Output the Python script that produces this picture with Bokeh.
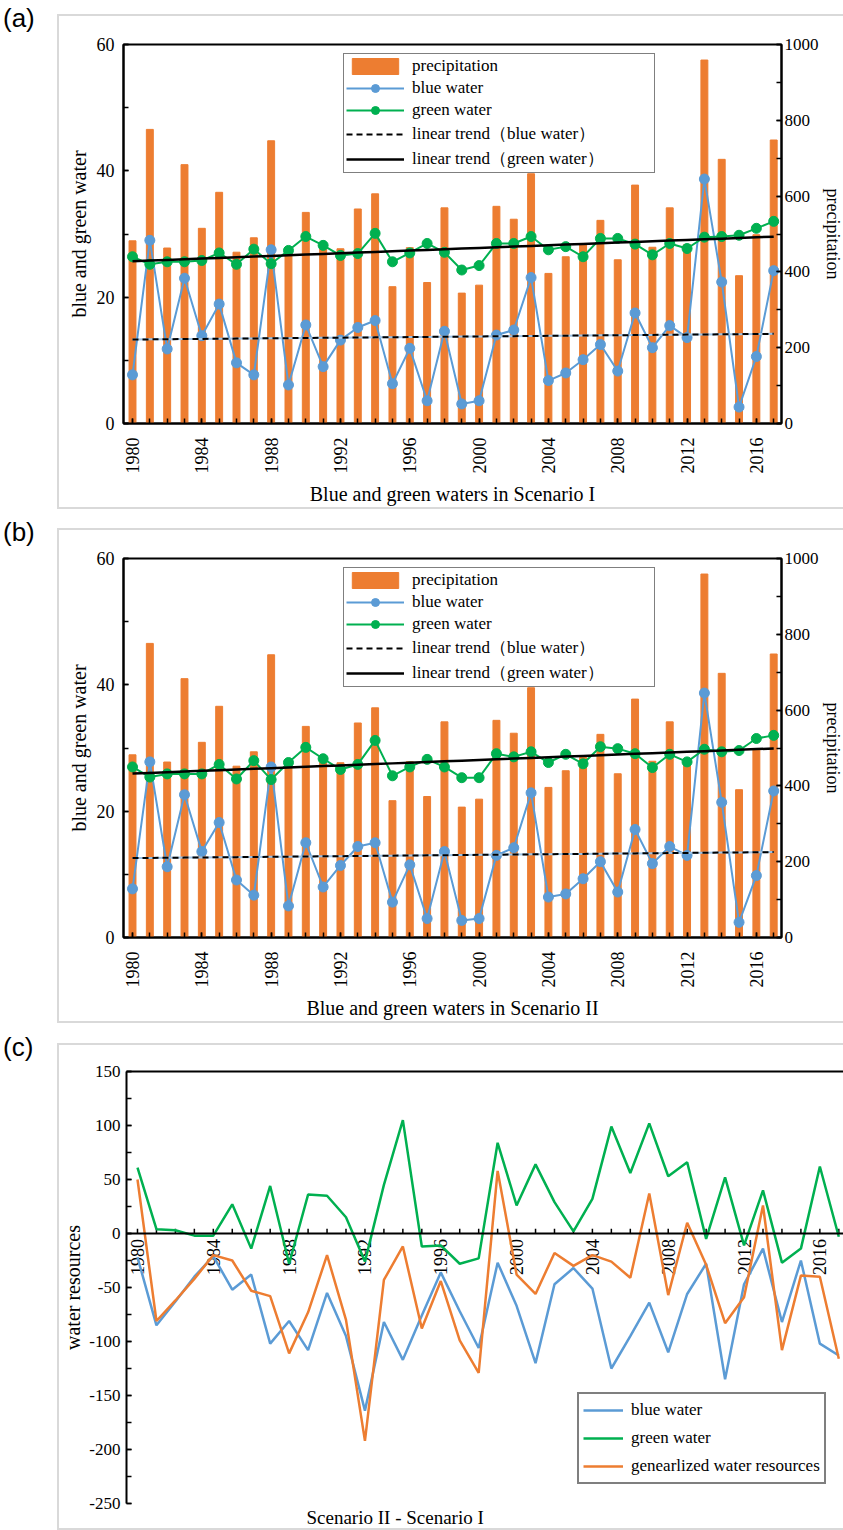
import numpy as np
from bokeh.plotting import figure
from bokeh.models import (Range1d, LinearAxis, FixedTicker, Legend, LegendItem,
                          Label, Div, Span, Spacer, PrintfTickFormatter, Title)
from bokeh.layouts import column, row
from bokeh.core.properties import value
from bokeh.embed import file_html
from bokeh.resources import INLINE

# ---------------- data ----------------
years = list(range(1980, 2018))
year_labels = list(range(1980, 2017, 4))

precipitation = [482, 776, 463, 683, 515, 610, 452, 490, 746, 460,
                 557, 462, 461, 566, 606, 361, 464, 372, 569, 344,
                 365, 573, 539, 659, 396, 440, 475, 536, 432, 629,
                 465, 569, 472, 959, 697, 390, 498, 748]

blue_s1 = [7.7, 29.0, 11.8, 23.0, 13.9, 18.9, 9.6, 7.7, 27.5, 6.1,
           15.6, 9.0, 13.2, 15.2, 16.3, 6.3, 11.9, 3.6, 14.6, 3.1,
           3.6, 14.0, 14.8, 23.1, 6.8, 8.0, 10.1, 12.5, 8.3, 17.5,
           12.0, 15.5, 13.6, 38.7, 22.4, 2.6, 10.6, 24.2]
green_s1 = [26.4, 25.2, 25.6, 25.6, 25.8, 27.0, 25.2, 27.6, 25.3, 27.4,
            29.6, 28.2, 26.6, 26.9, 30.1, 25.6, 27.0, 28.5, 27.1, 24.3,
            25.0, 28.5, 28.5, 29.6, 27.5, 28.0, 26.4, 29.3, 29.3, 28.4,
            26.7, 28.5, 27.7, 29.5, 29.6, 29.8, 30.9, 32.0]

blue_s2 = [7.7, 27.8, 11.2, 22.6, 13.6, 18.2, 9.1, 6.7, 27.0, 5.0,
           15.0, 8.0, 11.4, 14.4, 15.0, 5.6, 11.5, 3.0, 13.6, 2.7,
           3.0, 13.0, 14.2, 22.9, 6.4, 6.9, 9.3, 12.0, 7.2, 17.1,
           11.7, 14.4, 13.0, 38.7, 21.4, 2.4, 9.8, 23.2]
green_s2 = [27.0, 25.4, 25.9, 25.9, 25.9, 27.4, 25.1, 28.0, 25.0, 27.7,
            30.1, 28.3, 26.6, 27.4, 31.2, 25.6, 27.0, 28.2, 27.0, 25.3,
            25.3, 29.1, 28.6, 29.4, 27.7, 29.0, 27.5, 30.2, 29.9, 29.1,
            26.9, 29.0, 27.8, 29.8, 29.4, 29.6, 31.5, 32.0]

diff_blue = [-22, -85, -63, -40, -21, -52, -38, -102, -81, -108,
             -55, -95, -164, -82, -117, -76, -36, -72, -106, -27,
             -67, -120, -47, -32, -51, -125, -95, -64, -110, -56,
             -28, -135, -47, -14, -82, -25, -102, -113]
diff_green = [61, 4, 3, -2, -2, 27, -14, 44, -28, 36,
              35, 15, -26, 45, 105, -12, -11, -28, -23, 84,
              26, 64, 29, 2, 32, 99, 56, 102, 53, 66,
              -5, 52, -11, 40, -27, -14, 62, -3]
diff_general = [50, -81, -62, -42, -20, -25, -53, -58, -111, -73,
                -20, -80, -192, -43, -12, -88, -44, -99, -129, 58,
                -38, -56, -18, -30, -20, -26, -41, 37, -57, 10,
                -29, -83, -59, 26, -108, -39, -40, -116]

ORANGE = "#ED7D31"
BLUE = "#5B9BD5"
GREEN = "#00B050"
SERIF = "Liberation Serif"
BOX = {"border": "2px solid #d9d9d9", "border-right": "none"}


def style_axis(ax, size="18px", label_size="20px"):
    ax.axis_line_color = "black"
    ax.axis_line_width = 2
    ax.major_tick_line_width = 1.5
    ax.minor_tick_line_width = 1.5
    ax.major_tick_in = 5
    ax.major_tick_out = 0
    ax.minor_tick_in = 5
    ax.minor_tick_out = 0
    ax.major_label_text_font = SERIF
    ax.major_label_text_font_size = size
    ax.major_label_text_color = "black"
    ax.axis_label_text_font = SERIF
    ax.axis_label_text_font_size = label_size
    ax.axis_label_text_font_style = "normal"
    ax.axis_label_text_color = "black"


def water_panel(blue, green, xtitle):
    p = figure(width=786, height=495, x_range=Range1d(1979.48, 2017.45),
               y_range=Range1d(0, 60), output_backend="svg", toolbar_location=None,
               min_border_left=64, min_border_right=62, min_border_top=28,
               min_border_bottom=88, margin=0, styles=BOX)
    p.extra_y_ranges = {"precip": Range1d(0, 1000)}
    p.grid.visible = False
    p.outline_line_color = "black"
    p.outline_line_width = 2

    p.yaxis.ticker = FixedTicker(ticks=[0, 20, 40, 60], minor_ticks=list(range(0, 61, 10)))
    p.yaxis.axis_label = "blue and green water"
    style_axis(p.yaxis[0])
    p.yaxis.major_label_standoff = 9
    p.yaxis.axis_label_standoff = 4

    p.xaxis.ticker = FixedTicker(ticks=year_labels, minor_ticks=years)
    p.xaxis.major_label_orientation = np.pi / 2
    p.xaxis.axis_label = xtitle
    style_axis(p.xaxis[0])
    p.xaxis.major_label_standoff = 14
    p.xaxis.axis_label_standoff = 6

    right = LinearAxis(y_range_name="precip", axis_label="precipitation",
                       ticker=FixedTicker(ticks=list(range(0, 1001, 200)),
                                          minor_ticks=list(range(0, 1001, 100))))
    style_axis(right, size="17px", label_size="18px")
    right.major_label_standoff = 3
    right.axis_label_standoff = 1
    p.add_layout(right, "right")

    bars = p.vbar(x=years, top=precipitation, width=0.4, bottom=0,
                  fill_color=ORANGE, line_color=ORANGE, y_range_name="precip")

    yrs = np.array(years, dtype=float)
    tb = np.polyval(np.polyfit(yrs, blue, 1), yrs)
    tg = np.polyval(np.polyfit(yrs, green, 1), yrs)

    bl = p.line(years, blue, line_color=BLUE, line_width=2)
    bs = p.scatter(years, blue, size=10, fill_color=BLUE, line_color=BLUE)
    gl = p.line(years, green, line_color=GREEN, line_width=2)
    gs = p.scatter(years, green, size=10, fill_color=GREEN, line_color=GREEN)

    p.line(yrs, tb, line_color="#9DC3E6", line_width=2)
    tbl = p.line(yrs, tb, line_color="black", line_width=2, line_dash="6 4")
    tgl = p.line(yrs, tg, line_color="black", line_width=2.5)

    legend = Legend(items=[
        LegendItem(label="precipitation", renderers=[bars]),
        LegendItem(label="blue water", renderers=[bl, bs]),
        LegendItem(label="green water", renderers=[gl, gs]),
        LegendItem(label="linear trend（blue water）", renderers=[tbl]),
        LegendItem(label="linear trend（green water）", renderers=[tgl]),
    ], location=(220, 250))
    legend.label_text_font = SERIF
    legend.label_text_font_size = "17px"
    legend.label_text_color = "black"
    legend.border_line_color = "black"
    legend.border_line_width = 1.5
    legend.background_fill_alpha = 1
    legend.padding = 2
    legend.margin = 0
    legend.spacing = 2
    legend.glyph_width = 58
    legend.glyph_height = 20
    legend.label_height = 20
    legend.label_standoff = 8
    legend.label_width = 240
    p.add_layout(legend)

    p.add_layout(Label(x=1980.1, y=62.9, text="billion m³", text_font=SERIF,
                       text_font_size="16px", text_baseline="middle", text_align="left"))
    p.add_layout(Label(x=2017.5, y=62.9, text="mm", text_font=SERIF,
                       text_font_size="16px", text_baseline="middle", text_align="right"))
    return p


def letter(txt):
    return Div(text=txt, width=57, height=30, margin=0,
               styles={"font-family": "Liberation Sans", "font-size": "26px",
                       "line-height": "28px", "transform": "translate(3px, -10px)"})


pa = water_panel(blue_s1, green_s1, "Blue and green waters in Scenario I")
pb = water_panel(blue_s2, green_s2, "Blue and green waters in Scenario II")

# ---------------- panel (c) ----------------
pc = figure(width=786, height=487, x_range=Range1d(1979.42, 2017.30),
            y_range=Range1d(-250, 150), output_backend="svg", toolbar_location=None,
            min_border_left=67, min_border_right=1, min_border_top=26,
            min_border_bottom=29, margin=0, styles=BOX)
pc.grid.visible = False
pc.outline_line_color = None
pc.xaxis.visible = False
pc.yaxis.ticker = FixedTicker(ticks=list(range(-250, 151, 50)),
                              minor_ticks=list(range(-250, 151, 25)))
pc.yaxis.formatter = PrintfTickFormatter(format="%d")
pc.yaxis.axis_label = "water resources"
style_axis(pc.yaxis[0], size="17px", label_size="20px")
pc.yaxis.major_label_standoff = 6
pc.yaxis.axis_label_standoff = 2

top_line = LinearAxis(ticker=FixedTicker(ticks=[]), major_label_text_font_size="0px",
                      axis_line_width=2, axis_line_color="black",
                      major_tick_in=0, major_tick_out=0, minor_tick_in=0, minor_tick_out=0)
pc.add_layout(top_line, "above")

pc.add_layout(Span(location=0, dimension="width", line_color="black", line_width=2))
pc.segment(x0=years, y0=[0] * len(years), x1=years, y1=[4.5] * len(years),
           line_color="black", line_width=1.5)
pc.text(x=year_labels, y=[-5] * len(year_labels), text=[str(y) for y in year_labels],
        angle=np.pi / 2, text_align="right", text_baseline="middle",
        text_font=value(SERIF), text_font_size="18px", text_color="black")

cb = pc.line(years, diff_blue, line_color=BLUE, line_width=2.5)
cg = pc.line(years, diff_green, line_color=GREEN, line_width=2.5)
co = pc.line(years, diff_general, line_color=ORANGE, line_width=2.5)

leg_c = Legend(items=[
    LegendItem(label="blue water", renderers=[cb]),
    LegendItem(label="green water", renderers=[cg]),
    LegendItem(label="genearlized water resources", renderers=[co]),
], location=(451, 19))
leg_c.label_text_font = SERIF
leg_c.label_text_font_size = "17px"
leg_c.label_text_color = "black"
leg_c.border_line_color = "black"
leg_c.border_line_width = 2
leg_c.padding = 4
leg_c.margin = 0
leg_c.spacing = 4
leg_c.glyph_width = 40
leg_c.glyph_height = 24
leg_c.label_height = 24
leg_c.label_standoff = 8
pc.add_layout(leg_c)

pc.add_layout(Label(x=1980.0, y=163, text="million m³", text_font=SERIF,
                    text_font_size="16px", text_baseline="middle", text_align="left"))
pc.add_layout(Title(text="Scenario II - Scenario I", align="left", offset=180,
                    text_font=SERIF, text_font_size="19px", text_font_style="normal",
                    text_color="black", standoff=2), "below")

layout = column(
    Spacer(height=14, margin=0),
    row(letter("(a)"), pa, margin=0),
    Spacer(height=19, margin=0),
    row(letter("(b)"), pb, margin=0),
    Spacer(height=20, margin=0),
    row(letter("(c)"), pc, margin=0),
    spacing=0, margin=0,
)

open("out.html", "w").write(file_html(layout, INLINE))
